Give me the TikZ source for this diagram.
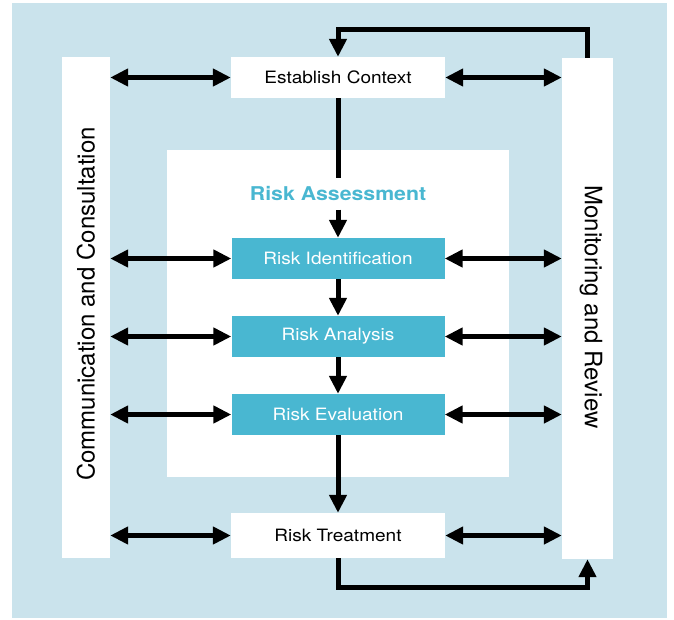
\documentclass[tikz,border=0pt]{standalone}
\usepackage{fontspec}
\setmainfont{TeX Gyre Heros}[FakeStretch=1.12]
\newfontfamily\vfont{TeX Gyre Heros}
\usetikzlibrary{arrows.meta}
\definecolor{bgblue}{RGB}{202,227,236}
\definecolor{rcyan}{RGB}{73,183,209}
\begin{document}
\begin{tikzpicture}[x=1pt,y=-1pt,
  wbox/.style={rectangle,fill=white,inner sep=0pt,minimum width=214pt,minimum height=41pt,font=\fontsize{17}{20}\selectfont},
  cbox/.style={rectangle,fill=rcyan,text=white,inner sep=0pt,minimum width=213pt,minimum height=41pt,font=\fontsize{17}{20}\selectfont},
  bar/.style={rectangle,fill=white,inner sep=0pt,minimum height=501pt},
  conn/.style={line width=5pt,line join=miter,draw=black},
  arr/.style={conn,-{Triangle[length=18pt,width=17pt]}},
  darr/.style={conn,{Triangle[length=18pt,width=17pt]}-{Triangle[length=18pt,width=17pt]}}
]
\useasboundingbox (0,0) rectangle (674,619);
\fill[bgblue] (12,3) rectangle (667,618);
\node[rectangle,fill=white,inner sep=0pt,minimum width=342pt,minimum height=327pt] (inner) at (338,313.5) {};
\node[bar,minimum width=48pt] (leftbar) at (86,307.5) {};
\node[bar,minimum width=51pt] (rightbar) at (587.5,308.5) {};
\node[rotate=90,font=\vfont\fontsize{24}{28}\selectfont] (cc) at (86,304) {Communication and Consultation};
\node[rotate=-90,font=\vfont\fontsize{24}{28}\selectfont] (mr) at (591,307) {Monitoring and Review};
\node[wbox] (ec) at (338,77.5) {Establish Context};
\node[inner sep=0pt,minimum height=31pt,text=rcyan,font=\bfseries\fontsize{19}{22}\selectfont] (ra) at (338,194) {Risk Assessment};
\node[cbox] (ri) at (338,258.5) {Risk Identification};
\node[cbox] (an) at (338,336.5) {Risk Analysis};
\node[cbox] (ev) at (338,414.5) {Risk Evaluation};
\node[wbox,minimum height=45pt] (rt) at (338,535.5) {Risk Treatment};
\coordinate (top) at (338,29.5);
\coordinate (bot) at (338,587.5);
% vertical flow
\draw[conn] (ec.south) -- (ra.north);
\draw[arr] (ra.south) -- (ri.north);
\draw[arr] (ri.south) -- (an.north);
\draw[arr] (an.south) -- (ev.north);
\draw[arr] (ev.south) -- (rt.north);
% feedback loops
\draw[arr] (rightbar.north) |- (top) -- (ec.north);
\draw[arr] (rt.south) -- (bot) -| (rightbar.south);
% double arrows
\foreach \b in {ec,ri,an,ev,rt}{
  \draw[darr] (\b.west -| leftbar.east) -- (\b.west);
  \draw[darr] (\b.east) -- (\b.east -| rightbar.west);
}
\end{tikzpicture}
\end{document}
